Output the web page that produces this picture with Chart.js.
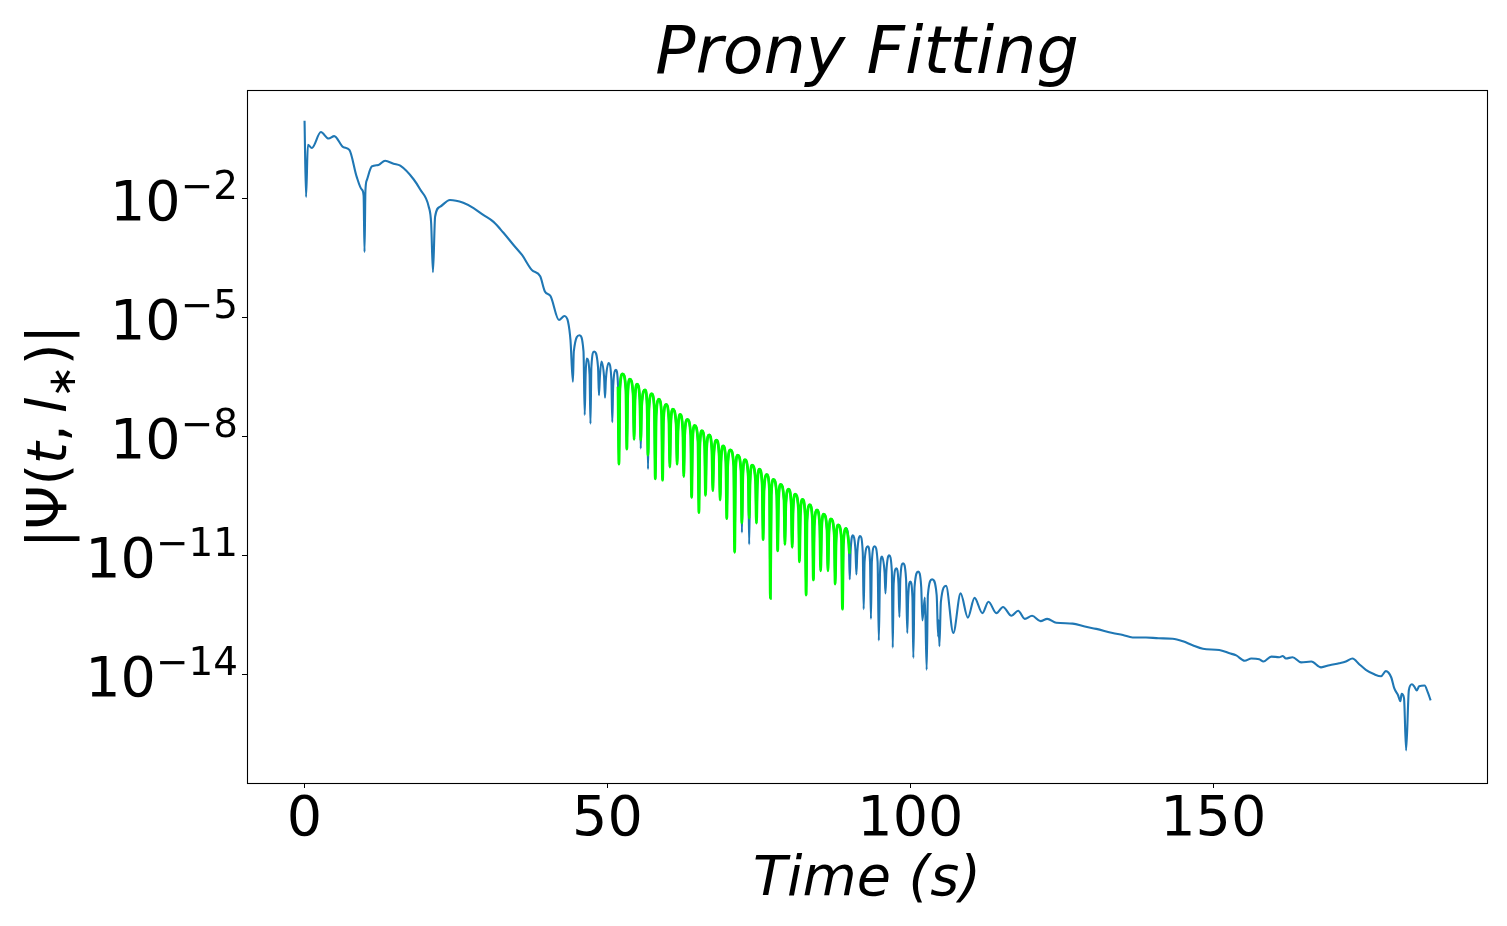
<!DOCTYPE html>
<html>
<head>
<meta charset="utf-8">
<title>Prony Fitting</title>
<script src="https://cdn.jsdelivr.net/npm/chart.js@4/dist/chart.umd.min.js"></script>
<style>
  html, body { margin: 0; padding: 0; background: #fff; }
  canvas { display: block; }
</style>
</head>
<body>
<canvas id="chart" width="1507" height="926"></canvas>
<script>
// |psi(t, l*)| as [time, value] pairs, split in three parts
const signalEarly = [
    [0, 9.3e-1], [0.25, 1.1e-2], [0.55, 2.3e-1], [1.2, 1.9e-1], [2.7, 4.8e-1], [3.96, 3.3e-1], [4.9, 3.8e-1], [6.4, 2.0e-1],
    [7.4, 1.7e-1], [8.6, 3.6e-2], [9.45, 1.7e-2], [9.75, 1.2e-2], [9.9, 4.5e-4], [10.05, 1.6e-2], [10.3, 3.0e-2], [11.1, 6.5e-2],
    [12.2, 7.1e-2], [13.3, 9.1e-2], [14.7, 7.6e-2], [15.8, 6.8e-2], [18.0, 3.1e-2], [19.1, 1.7e-2], [20.5, 6.3e-3], [20.9, 2.4e-3],
    [21.2, 1.4e-4], [21.55, 3.5e-3], [22.4, 6.3e-3], [24.0, 9.3e-3], [26.2, 7.9e-3], [27.9, 5.8e-3], [29.5, 3.9e-3], [31.2, 2.6e-3],
    [32.8, 1.4e-3], [34.5, 6.8e-4], [35.9, 3.8e-4], [37.5, 1.6e-4], [38.9, 1.1e-4], [39.7, 4.5e-5], [40.6, 3.5e-5], [42.0, 8.7e-6],
    [42.9, 1.1e-5], [43.5, 7.9e-6], [43.9, 2.7e-6], [44.3, 2.4e-7], [44.45, 1.4e-6], [45.4, 3.6e-6], [46.05, 1.4e-6], [46.25, 3.5e-8],
    [46.4, 3.7e-7], [46.6, 9.3e-7], [47.05, 3.7e-7], [47.2, 2.1e-8], [47.35, 5.6e-7], [47.8, 1.4e-6], [48.45, 5.6e-7], [48.6, 1.1e-7],
    [48.75, 3.1e-7], [49.0, 7.8e-7], [49.45, 3.1e-7], [49.6, 9.5e-8], [49.75, 2.8e-7], [50.2, 7.1e-7], [50.65, 2.8e-7], [50.8, 2.3e-8],
    [50.95, 1.9e-7], [51.4, 4.8e-7]
];
const signalWindow = [
    [51.75, 1.9e-7], [51.9, 2.0e-9], [52.05, 1.5e-7], [52.5, 3.8e-7], [53.05, 1.5e-7], [53.2, 4.8e-9], [53.35, 1.1e-7], [53.7, 2.8e-7],
    [54.25, 1.1e-7], [54.4, 8.5e-9], [54.55, 8.4e-8], [54.9, 2.1e-7], [55.35, 8.4e-8], [55.5, 5.0e-9], [55.65, 6.0e-8], [56.2, 1.5e-7],
    [56.55, 6.0e-8], [56.7, 1.5e-9], [56.85, 4.8e-8], [57.3, 1.2e-7], [57.75, 4.8e-8], [57.9, 8.5e-10], [58.05, 3.5e-8], [58.5, 8.7e-8],
    [58.95, 3.5e-8], [59.1, 7.9e-10], [59.25, 2.6e-8], [59.7, 6.5e-8], [60.15, 2.6e-8], [60.3, 1.7e-9], [60.45, 2.0e-8], [60.8, 4.9e-8],
    [61.35, 2.0e-8], [61.5, 2.0e-9], [61.65, 1.4e-8], [62.0, 3.6e-8], [62.45, 1.4e-8], [62.6, 9.8e-10], [62.75, 1.1e-8], [63.2, 2.7e-8],
    [63.75, 1.1e-8], [63.9, 2.9e-10], [64.05, 7.6e-9], [64.4, 1.9e-8], [64.95, 7.6e-9], [65.1, 1.2e-10], [65.25, 5.6e-9], [65.6, 1.4e-8],
    [66.05, 5.6e-9], [66.2, 3.3e-10], [66.35, 4.4e-9], [66.8, 1.1e-8], [67.25, 4.4e-9], [67.4, 4.3e-10], [67.55, 3.2e-9], [68.0, 8.1e-9],
    [68.45, 3.2e-9], [68.6, 2.5e-10], [68.75, 2.3e-9], [69.1, 5.8e-9], [69.55, 2.3e-9], [69.7, 8.5e-11], [69.85, 1.8e-9], [70.3, 4.6e-9],
    [70.85, 1.8e-9], [71.0, 1.2e-11], [71.15, 1.4e-9], [71.5, 3.4e-9], [72.05, 1.4e-9], [72.2, 3.8e-11], [72.35, 1.0e-9], [72.7, 2.6e-9],
    [73.25, 1.0e-9], [73.4, 1.9e-11], [73.55, 7.6e-10], [73.9, 1.9e-9], [74.45, 7.6e-10], [74.6, 6.5e-11], [74.75, 6.0e-10], [75.1, 1.5e-9],
    [75.55, 6.0e-10], [75.7, 2.5e-11], [75.85, 4.4e-10], [76.3, 1.1e-9], [76.75, 4.4e-10], [76.9, 8.3e-13], [77.05, 3.3e-10], [77.4, 8.3e-10],
    [77.95, 3.3e-10], [78.1, 1.3e-11], [78.25, 2.5e-10], [78.6, 6.2e-10], [79.15, 2.5e-10], [79.3, 1.9e-11], [79.45, 1.9e-10], [79.9, 4.7e-10],
    [80.35, 1.9e-10], [80.5, 1.6e-11], [80.65, 1.4e-10], [81.0, 3.5e-10], [81.55, 1.4e-10], [81.7, 6.9e-12], [81.85, 1.0e-10], [82.2, 2.6e-10],
    [82.65, 1.0e-10], [82.8, 1.0e-12], [82.95, 7.6e-11], [83.4, 1.9e-10], [83.85, 7.6e-11], [84.0, 2.4e-12], [84.15, 5.6e-11], [84.6, 1.4e-10],
    [85.05, 5.6e-11], [85.2, 4.1e-12], [85.35, 4.4e-11], [85.7, 1.1e-10], [86.25, 4.4e-11], [86.4, 4.1e-12], [86.55, 3.3e-11], [86.9, 8.3e-11],
    [87.45, 3.3e-11], [87.6, 1.9e-12], [87.75, 2.4e-11], [88.1, 5.9e-11], [88.65, 2.4e-11], [88.8, 4.4e-13], [88.95, 1.9e-11], [89.4, 4.8e-11],
    [89.85, 1.9e-11]
];
const signalLate = [
    [90.0, 2.5e-12], [90.15, 1.3e-11], [90.5, 3.2e-11], [90.95, 1.3e-11], [91.1, 3.3e-12], [91.25, 1.2e-11], [91.7, 3.1e-11], [92.15, 1.2e-11],
    [92.3, 4.4e-13], [92.45, 6.8e-12], [93.0, 1.7e-11], [93.35, 6.8e-12], [93.5, 2.5e-13], [93.65, 6.8e-12], [94.1, 1.7e-11], [94.6, 6.8e-12],
    [94.8, 7.1e-14], [95.0, 3.7e-12], [95.3, 9.3e-12], [95.75, 3.7e-12], [95.9, 1.1e-12], [96.05, 4.0e-12], [96.5, 1.0e-11], [96.95, 4.0e-12],
    [97.1, 4.7e-14], [97.25, 1.9e-12], [97.7, 4.7e-12], [98.05, 1.9e-12], [98.2, 2.8e-13], [98.35, 2.5e-12], [98.8, 6.3e-12], [99.3, 2.5e-12],
    [99.5, 1.1e-13], [99.65, 8.8e-13], [100.0, 2.2e-12], [100.35, 8.8e-13], [100.5, 2.6e-14], [100.7, 1.6e-12], [101.3, 3.9e-12], [101.8, 1.6e-12],
    [102.0, 2.3e-13], [102.4, 8.7e-13], [102.7, 1.3e-14], [102.9, 1.0e-12], [103.6, 2.5e-12], [104.35, 1.0e-12], [104.6, 8.9e-14], [104.7, 2.3e-13],
    [104.8, 5.1e-14], [105.05, 6.8e-13], [105.9, 1.7e-12], [107.1, 1.1e-13], [108.3, 1.1e-12], [109.5, 2.7e-13], [110.6, 8.5e-13], [111.9, 3.5e-13],
    [112.9, 6.8e-13], [114.2, 3.5e-13], [115.3, 5.0e-13], [116.7, 3.0e-13], [117.8, 4.0e-13], [118.9, 2.5e-13], [120.1, 3.0e-13], [121.5, 2.2e-13],
    [122.6, 2.5e-13], [124.1, 2.0e-13], [126.8, 1.9e-13], [128.8, 1.6e-13], [130.7, 1.4e-13], [133.4, 1.1e-13], [135.1, 9.8e-14], [136.7, 8.5e-14],
    [138.9, 8.5e-14], [141.0, 8.1e-14], [143.3, 7.9e-14], [145.0, 6.8e-14], [146.6, 5.4e-14], [148.3, 4.4e-14], [151.0, 4.1e-14], [152.7, 3.4e-14],
    [153.8, 3.0e-14], [155.2, 2.2e-14], [156.3, 2.5e-14], [157.6, 2.4e-14], [158.3, 2.1e-14], [159.6, 2.8e-14], [160.9, 2.7e-14], [161.5, 2.9e-14],
    [162.0, 2.5e-14], [163.1, 2.7e-14], [164.5, 2.0e-14], [166.2, 2.1e-14], [167.8, 1.5e-14], [169.2, 1.7e-14], [170.8, 1.9e-14], [171.9, 2.1e-14],
    [173.0, 2.5e-14], [174.1, 1.8e-14], [175.2, 1.3e-14], [176.6, 1.0e-14], [177.7, 8.9e-15], [178.5, 1.2e-14], [179.4, 8.3e-15], [179.9, 4.4e-15],
    [180.5, 3.0e-15], [180.9, 2.1e-15], [181.1, 3.2e-15], [181.5, 2.5e-15], [181.85, 1.2e-16], [182.3, 4.0e-15], [182.8, 5.6e-15], [183.2, 4.9e-15],
    [183.6, 3.9e-15], [184.0, 5.0e-15], [184.9, 5.2e-15], [185.4, 3.6e-15], [185.9, 2.2e-15]
];

// prony fit drawn over the fitting window
const pronyFit = [
    [51.75, 1.8e-7], [51.9, 2.0e-9], [52.05, 1.5e-7], [52.5, 3.8e-7], [53.05, 1.5e-7], [53.2, 4.8e-9], [53.35, 1.1e-7], [53.7, 2.8e-7],
    [54.25, 1.1e-7], [54.4, 8.5e-9], [54.55, 8.4e-8], [54.9, 2.1e-7], [55.35, 8.4e-8], [55.5, 8.1e-9], [55.65, 6.0e-8], [56.2, 1.5e-7],
    [56.55, 6.0e-8], [56.7, 3.4e-9], [56.85, 4.8e-8], [57.3, 1.2e-7], [57.75, 4.8e-8], [57.9, 8.5e-10], [58.05, 3.5e-8], [58.5, 8.7e-8],
    [58.95, 3.5e-8], [59.1, 7.9e-10], [59.25, 2.6e-8], [59.7, 6.5e-8], [60.15, 2.6e-8], [60.3, 1.7e-9], [60.45, 2.0e-8], [60.8, 4.9e-8],
    [61.35, 2.0e-8], [61.5, 2.0e-9], [61.65, 1.4e-8], [62.0, 3.6e-8], [62.45, 1.4e-8], [62.6, 9.8e-10], [62.75, 1.1e-8], [63.2, 2.7e-8],
    [63.75, 1.1e-8], [63.9, 2.9e-10], [64.05, 7.6e-9], [64.4, 1.9e-8], [64.95, 7.6e-9], [65.1, 1.2e-10], [65.25, 5.6e-9], [65.6, 1.4e-8],
    [66.05, 5.6e-9], [66.2, 3.3e-10], [66.35, 4.4e-9], [66.8, 1.1e-8], [67.25, 4.4e-9], [67.4, 4.3e-10], [67.55, 3.2e-9], [68.0, 8.1e-9],
    [68.45, 3.2e-9], [68.6, 2.5e-10], [68.75, 2.3e-9], [69.1, 5.8e-9], [69.55, 2.3e-9], [69.7, 8.5e-11], [69.85, 1.8e-9], [70.3, 4.6e-9],
    [70.85, 1.8e-9], [71.0, 1.2e-11], [71.15, 1.4e-9], [71.5, 3.4e-9], [72.05, 1.4e-9], [72.2, 6.6e-11], [72.35, 1.0e-9], [72.7, 2.6e-9],
    [73.25, 1.0e-9], [73.4, 8.7e-11], [73.55, 7.6e-10], [73.9, 1.9e-9], [74.45, 7.6e-10], [74.6, 6.5e-11], [74.75, 6.0e-10], [75.1, 1.5e-9],
    [75.55, 6.0e-10], [75.7, 2.5e-11], [75.85, 4.4e-10], [76.3, 1.1e-9], [76.75, 4.4e-10], [76.9, 8.3e-13], [77.05, 3.3e-10], [77.4, 8.3e-10],
    [77.95, 3.3e-10], [78.1, 1.3e-11], [78.25, 2.5e-10], [78.6, 6.2e-10], [79.15, 2.5e-10], [79.3, 1.9e-11], [79.45, 1.9e-10], [79.9, 4.7e-10],
    [80.35, 1.9e-10], [80.5, 1.6e-11], [80.65, 1.4e-10], [81.0, 3.5e-10], [81.55, 1.4e-10], [81.7, 6.9e-12], [81.85, 1.0e-10], [82.2, 2.6e-10],
    [82.65, 1.0e-10], [82.8, 1.0e-12], [82.95, 7.6e-11], [83.4, 1.9e-10], [83.85, 7.6e-11], [84.0, 2.4e-12], [84.15, 5.6e-11], [84.6, 1.4e-10],
    [85.05, 5.6e-11], [85.2, 4.1e-12], [85.35, 4.4e-11], [85.7, 1.1e-10], [86.25, 4.4e-11], [86.4, 4.1e-12], [86.55, 3.3e-11], [86.9, 8.3e-11],
    [87.45, 3.3e-11], [87.6, 1.9e-12], [87.75, 2.4e-11], [88.1, 5.9e-11], [88.65, 2.4e-11], [88.8, 4.4e-13], [88.95, 1.9e-11], [89.4, 4.8e-11],
    [89.85, 1.9e-11], [89.95, 1.1e-11]
];

const xTicks = [0, 50, 100, 150];
const xTickLabels = ['0', '50', '100', '150'];
const yTicks = [1e-2, 1e-5, 1e-8, 1e-11, 1e-14];
const yTickPowers = ['\u22122', '\u22125', '\u22128', '\u221211', '\u221214'];

const titleText = 'Prony Fitting';
const xAxisLabel = 'Time (s)';

const font = '"DejaVu Sans", sans-serif';
const toPoints = pairs => pairs.map(p => ({ x: p[0], y: p[1] }));

// text is drawn by hand so the superscripts and the math label look like matplotlib
const textPlugin = {
    id: 'mplText',
    afterDatasetsDraw(chart) {
        const ctx = chart.ctx;
        const a = chart.chartArea;
        ctx.save();
        ctx.strokeStyle = '#000';
        ctx.lineWidth = 1.1;
        ctx.strokeRect(a.left + 0.5, a.top + 0.5, a.right - a.left, a.bottom - a.top);
        ctx.restore();
    },
    afterDraw(chart) {
        const ctx = chart.ctx;
        const a = chart.chartArea;
        const xs = chart.scales.x;
        const ys = chart.scales.y;
        const mid = (a.left + a.right) / 2;
        ctx.save();
        ctx.fillStyle = '#000';
        ctx.textBaseline = 'alphabetic';

        ctx.textAlign = 'center';
        ctx.font = 'italic 66.7px ' + font;
        ctx.fillText(titleText, mid, 73);

        ctx.font = '55.6px ' + font;
        xTicks.forEach((v, i) => ctx.fillText(xTickLabels[i], xs.getPixelForValue(v), 835));

        ctx.font = 'italic 55.6px ' + font;
        ctx.fillText(xAxisLabel, mid, 895);

        ctx.textAlign = 'left';
        yTicks.forEach((v, i) => {
            const py = ys.getPixelForValue(v);
            ctx.font = '55.6px ' + font;
            const wb = ctx.measureText('10').width;
            ctx.font = '38.9px ' + font;
            const we = ctx.measureText(yTickPowers[i]).width;
            const x0 = 238 - wb - we;
            ctx.font = '55.6px ' + font;
            ctx.fillText('10', x0, py + 21.5);
            ctx.font = '38.9px ' + font;
            ctx.fillText(yTickPowers[i], x0 + wb, py + 0.5);
        });

        // |Psi(t, l_*)|
        const parts = [
            ['|\u03A8(', '', 55.6, 0],
            ['t', 'italic ', 55.6, 0],
            [',', '', 55.6, 0],
            ['\u2009', '', 55.6, 0],
            ['l', 'italic ', 55.6, 0],
            ['\u2217', '', 38.9, 9],
            [')|', '', 55.6, 0]
        ];
        let total = 0;
        parts.forEach(p => {
            ctx.font = p[1] + p[2] + 'px ' + font;
            p.push(ctx.measureText(p[0]).width);
            total += p[4];
        });
        ctx.translate(66, (a.top + a.bottom) / 2);
        ctx.rotate(-Math.PI / 2);
        let cx = -total / 2;
        parts.forEach(p => {
            ctx.font = p[1] + p[2] + 'px ' + font;
            ctx.fillText(p[0], cx, p[3]);
            cx += p[4];
        });
        ctx.restore();
    }
};

const context = document.getElementById('chart');
const pronyChart = new Chart(context, {
    type: 'line',
    data: {
        datasets: [{
            data: toPoints(pronyFit),
            borderColor: '#00ff00',
            borderWidth: 2.8,
            pointRadius: 0,
            cubicInterpolationMode: 'monotone',
            order: 0
        }, {
            data: toPoints(signalEarly.concat(signalWindow, signalLate)),
            borderColor: '#1f77b4',
            borderWidth: 2.1,
            pointRadius: 0,
            cubicInterpolationMode: 'monotone',
            order: 1
        }]
    },
    options: {
        responsive: false,
        animation: false,
        devicePixelRatio: 1,
        layout: { padding: { top: 90, right: 20, left: 0, bottom: 0 } },
        plugins: {
            legend: { display: false },
            tooltip: { enabled: false },
            title: { display: false }
        },
        scales: {
            x: {
                type: 'linear',
                bounds: 'data',
                min: -9.5,
                max: 195.2,
                afterBuildTicks: scale => { scale.ticks = xTicks.map(v => ({ value: v })); },
                afterFit: scale => { scale.height = 143; },
                ticks: { display: false },
                border: { display: false },
                grid: { drawOnChartArea: false, drawTicks: true, tickLength: 5, color: '#000', lineWidth: 1 }
            },
            y: {
                type: 'logarithmic',
                bounds: 'data',
                min: 1.81e-17,
                max: 5.53,
                afterBuildTicks: scale => { scale.ticks = yTicks.map(v => ({ value: v, major: true })); },
                afterFit: scale => { scale.width = 247; },
                ticks: { display: false },
                border: { display: false },
                grid: { drawOnChartArea: false, drawTicks: true, tickLength: 5, color: '#000', lineWidth: 1 }
            }
        }
    },
    plugins: [textPlugin]
});
</script>
</body>
</html>
